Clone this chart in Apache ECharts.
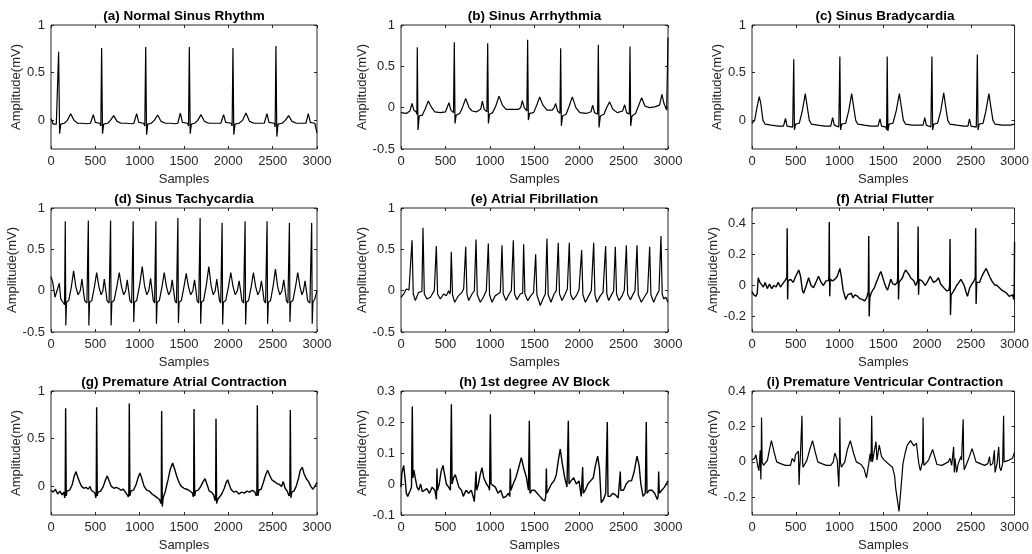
<!DOCTYPE html>
<html>
<head>
<meta charset="utf-8">
<title>ECG rhythms</title>
<script src="https://cdn.jsdelivr.net/npm/echarts@6/dist/echarts.min.js"></script>
<style>
  html, body { margin: 0; padding: 0; background: #fff; }
  #chart { width: 1032px; height: 554px; }
</style>
</head>
<body>
<div id="chart"></div>
<script>
// panel titles, y ranges and tick labels
const panelTitles = [
  '(a) Normal Sinus Rhythm', '(b) Sinus Arrhythmia', '(c) Sinus Bradycardia',
  '(d) Sinus Tachycardia', '(e) Atrial Fibrillation', '(f) Atrial Flutter',
  '(g) Premature Atrial Contraction', '(h) 1st degree AV Block', '(i) Premature Ventricular Contraction'
];
const yRanges = [[-0.3, 1], [-0.5, 1], [-0.3, 1], [-0.5, 1], [-0.5, 1], [-0.3, 0.5], [-0.3, 1], [-0.1, 0.3], [-0.3, 0.4]];
const yTicks = [
  [0, 0.5, 1], [-0.5, 0, 0.5, 1], [0, 0.5, 1],
  [-0.5, 0, 0.5, 1], [-0.5, 0, 0.5, 1], [-0.2, 0, 0.2, 0.4],
  [0, 0.5, 1], [-0.1, 0, 0.1, 0.2, 0.3], [-0.2, 0, 0.2, 0.4]
];
const xTicks = [0, 500, 1000, 1500, 2000, 2500, 3000];
// the noisier recordings look heavier in the original
const noisy = [false, false, false, false, false, true, true, true, false];

// signals, [sample, mV]
const normalSinus = [[0,0.02],[12,-0.01],[25,-0.04],[60,-0.04],[75,-0.06],[86,0.72],[97,-0.14],[110,-0.04],[150,-0.03],[185,0.0],[222,0.07],[260,0.0],[300,-0.03],[350,-0.03],[400,-0.035],[445,-0.03],[477,0.06],[500,-0.02],[550,-0.03],[562,-0.06],[571,0.76],[581,-0.14],[594,-0.04],[640,-0.03],[670,0.0],[707,0.05],[745,-0.01],[790,-0.03],[850,-0.03],[910,-0.035],[935,-0.03],[966,0.07],[990,-0.02],[1045,-0.03],[1058,-0.06],[1068,0.77],[1078,-0.15],[1091,-0.04],[1130,-0.03],[1165,0.0],[1203,0.056],[1240,-0.01],[1290,-0.03],[1350,-0.03],[1400,-0.035],[1430,-0.03],[1459,0.077],[1482,-0.02],[1540,-0.03],[1551,-0.06],[1560,0.77],[1570,-0.14],[1583,-0.04],[1620,-0.03],[1655,0.0],[1692,0.06],[1730,-0.01],[1780,-0.03],[1850,-0.03],[1915,-0.03],[1947,0.06],[1970,-0.02],[2032,-0.03],[2043,-0.06],[2052,0.76],[2062,-0.15],[2075,-0.04],[2120,-0.03],[2160,0.0],[2199,0.077],[2238,-0.01],[2290,-0.03],[2350,-0.03],[2405,-0.03],[2436,0.07],[2458,-0.02],[2518,-0.03],[2528,-0.07],[2537,0.78],[2547,-0.17],[2560,-0.04],[2605,-0.03],[2643,0.0],[2680,0.05],[2718,-0.01],[2770,-0.03],[2830,-0.03],[2875,-0.03],[2902,0.07],[2925,-0.02],[2975,-0.03],[3000,-0.13]];

const sinusArrhythmia = [[0,-0.06],[60,-0.07],[100,-0.04],[124,0.05],[145,-0.03],[170,-0.05],[178,-0.08],[183,0.73],[191,-0.27],[205,-0.1],[240,-0.09],[270,-0.02],[307,0.08],[345,0.0],[380,-0.05],[440,-0.06],[500,-0.05],[520,-0.03],[539,0.06],[560,-0.03],[590,-0.06],[599,0.79],[607,-0.19],[620,-0.09],[660,-0.07],[690,0.0],[727,0.11],[765,0.0],[800,-0.04],[850,-0.05],[895,-0.02],[914,0.08],[935,-0.02],[965,-0.05],[974,0.78],[982,-0.19],[995,-0.08],[1030,-0.06],[1065,0.02],[1101,0.14],[1140,0.03],[1180,-0.02],[1250,-0.02],[1320,-0.02],[1345,0.0],[1363,0.086],[1385,0.0],[1414,-0.04],[1423,0.82],[1431,-0.15],[1445,-0.07],[1490,-0.06],[1525,0.03],[1558,0.13],[1595,0.03],[1640,-0.03],[1700,-0.03],[1720,0.0],[1738,0.05],[1760,-0.04],[1786,-0.07],[1794,0.72],[1802,-0.22],[1815,-0.1],[1855,-0.08],[1890,0.02],[1925,0.13],[1965,0.0],[2010,-0.06],[2080,-0.07],[2135,-0.05],[2153,0.03],[2175,-0.06],[2209,-0.08],[2217,0.76],[2225,-0.24],[2240,-0.1],[2280,-0.08],[2310,0.0],[2344,0.07],[2380,-0.02],[2430,-0.06],[2490,-0.04],[2513,0.035],[2535,-0.06],[2565,-0.08],[2573,0.74],[2581,-0.22],[2595,-0.1],[2635,-0.07],[2668,0.02],[2704,0.12],[2740,0.02],[2790,0.0],[2850,0.01],[2905,0.03],[2932,0.16],[2955,0.05],[2985,-0.03],[2993,-0.01],[3000,0.85]];

const sinusBrady = [[0,-0.03],[30,0.0],[60,0.15],[83,0.25],[100,0.18],[125,0.0],[150,-0.04],[220,-0.05],[300,-0.06],[360,-0.06],[383,0.02],[400,-0.06],[465,-0.07],[470,-0.09],[477,0.64],[485,-0.1],[498,-0.04],[540,-0.03],[575,0.1],[609,0.28],[630,0.15],[655,0.0],[680,-0.04],[750,-0.05],[830,-0.06],[900,-0.06],[921,0.03],[940,-0.05],[992,-0.07],[997,-0.09],[1004,0.67],[1012,-0.1],[1025,-0.04],[1070,-0.03],[1105,0.1],[1139,0.28],[1160,0.15],[1185,0.0],[1210,-0.04],[1280,-0.05],[1360,-0.06],[1440,-0.06],[1462,0.015],[1480,-0.06],[1532,-0.07],[1538,-0.1],[1545,0.67],[1553,-0.11],[1566,-0.04],[1610,-0.03],[1648,0.1],[1684,0.28],[1705,0.15],[1730,0.0],[1755,-0.04],[1830,-0.05],[1900,-0.05],[1955,-0.05],[1974,0.03],[1992,-0.05],[2044,-0.07],[2049,-0.09],[2056,0.67],[2064,-0.1],[2077,-0.04],[2120,-0.03],[2157,0.1],[2191,0.29],[2212,0.15],[2237,0.0],[2262,-0.04],[2340,-0.05],[2420,-0.06],[2468,-0.06],[2485,0.015],[2503,-0.06],[2563,-0.07],[2568,-0.09],[2575,0.69],[2583,-0.1],[2596,-0.04],[2640,-0.03],[2673,0.1],[2707,0.28],[2728,0.15],[2753,0.0],[2778,-0.04],[2860,-0.05],[2950,-0.05],[3000,-0.04]];

const sinusTachy = [[0,0.17],[20,0.1],[45,-0.08],[65,-0.1],[94,0.09],[110,-0.1],[135,-0.14],[153,-0.17],[161,0.84],[167,-0.42],[175,-0.14],[200,-0.12],[230,0.05],[255,0.24],[280,0.05],[305,-0.05],[330,0.0],[349,0.14],[365,0.0],[380,-0.12],[405,-0.15],[413,-0.17],[421,0.85],[427,-0.42],[435,-0.14],[460,-0.12],[490,0.05],[515,0.22],[540,0.05],[565,-0.05],[585,0.0],[601,0.14],[618,0.0],[632,-0.12],[655,-0.15],[664,-0.17],[672,0.85],[678,-0.42],[686,-0.14],[711,-0.12],[743,0.05],[770,0.22],[795,0.05],[820,-0.05],[842,0.0],[860,0.13],[876,0.0],[890,-0.12],[910,-0.15],[919,-0.17],[927,0.84],[933,-0.38],[941,-0.14],[966,-0.12],[1000,0.07],[1029,0.29],[1055,0.06],[1080,-0.05],[1103,0.0],[1123,0.15],[1140,0.0],[1153,-0.12],[1168,-0.15],[1175,-0.17],[1183,0.84],[1189,-0.4],[1197,-0.14],[1222,-0.12],[1252,0.05],[1277,0.22],[1302,0.05],[1327,-0.05],[1350,0.0],[1367,0.13],[1383,0.0],[1398,-0.12],[1415,-0.15],[1423,-0.17],[1431,0.88],[1437,-0.39],[1445,-0.14],[1470,-0.12],[1500,0.05],[1525,0.21],[1550,0.05],[1575,-0.05],[1600,0.0],[1619,0.13],[1635,0.0],[1648,-0.12],[1666,-0.15],[1674,-0.17],[1682,0.88],[1688,-0.4],[1696,-0.14],[1721,-0.12],[1752,0.07],[1780,0.29],[1806,0.06],[1830,-0.05],[1852,0.0],[1870,0.14],[1886,0.0],[1900,-0.12],[1914,-0.15],[1922,-0.17],[1930,0.82],[1936,-0.41],[1944,-0.14],[1970,-0.12],[2002,0.05],[2028,0.22],[2053,0.05],[2078,-0.05],[2102,0.0],[2122,0.12],[2138,0.0],[2153,-0.12],[2172,-0.15],[2181,-0.17],[2189,0.84],[2195,-0.41],[2203,-0.14],[2228,-0.12],[2258,0.05],[2283,0.22],[2308,0.05],[2333,-0.05],[2355,0.0],[2373,0.12],[2389,0.0],[2403,-0.12],[2420,-0.15],[2429,-0.17],[2437,0.84],[2443,-0.4],[2451,-0.14],[2476,-0.12],[2506,0.06],[2531,0.26],[2556,0.05],[2581,-0.05],[2605,0.0],[2625,0.13],[2641,0.0],[2655,-0.12],[2672,-0.15],[2681,-0.17],[2689,0.82],[2695,-0.38],[2703,-0.14],[2728,-0.12],[2758,0.05],[2783,0.22],[2808,0.05],[2830,-0.05],[2848,0.0],[2865,0.12],[2880,0.0],[2895,-0.12],[2920,-0.15],[2932,-0.17],[2940,0.82],[2946,-0.4],[2954,-0.14],[2975,-0.1],[3000,0.0]];

const atrialFib = [[0,-0.08],[30,-0.04],[60,0.02],[90,0.01],[110,-0.01],[124,0.61],[138,-0.04],[161,-0.12],[198,-0.02],[235,-0.01],[247,0.76],[262,-0.04],[292,-0.1],[330,-0.08],[374,0.0],[386,-0.01],[397,0.54],[411,-0.04],[442,-0.1],[479,-0.04],[510,-0.06],[535,0.0],[548,-0.04],[555,-0.01],[565,0.47],[579,-0.05],[603,-0.14],[640,-0.07],[685,-0.02],[704,0.02],[716,0.0],[727,0.53],[741,-0.04],[760,-0.12],[798,-0.04],[824,0.0],[832,-0.01],[843,0.62],[857,-0.05],[891,-0.14],[925,-0.08],[959,0.0],[970,-0.01],[981,0.57],[995,-0.05],[1022,-0.14],[1060,-0.06],[1090,-0.04],[1116,-0.02],[1124,-0.03],[1135,0.55],[1149,-0.04],[1180,-0.12],[1215,-0.04],[1240,0.0],[1251,-0.01],[1262,0.61],[1276,-0.04],[1303,-0.11],[1340,-0.04],[1360,-0.02],[1367,-0.03],[1378,0.56],[1392,-0.04],[1423,-0.12],[1460,-0.06],[1490,-0.02],[1502,-0.03],[1513,0.44],[1527,-0.05],[1565,-0.18],[1595,-0.1],[1622,-0.04],[1630,-0.05],[1640,0.63],[1654,-0.05],[1685,-0.14],[1720,-0.04],[1745,0.0],[1756,-0.01],[1767,0.58],[1781,-0.04],[1809,-0.12],[1845,-0.04],[1869,0.02],[1880,0.0],[1891,0.58],[1905,-0.04],[1932,-0.11],[1970,-0.06],[2000,0.01],[2019,0.0],[2030,0.49],[2044,-0.05],[2071,-0.14],[2110,-0.06],[2138,0.0],[2154,-0.01],[2165,0.58],[2179,-0.05],[2202,-0.14],[2240,-0.06],[2270,-0.02],[2288,-0.02],[2299,0.54],[2313,-0.04],[2333,-0.12],[2360,-0.06],[2389,0.0],[2398,-0.01],[2408,0.53],[2422,-0.04],[2449,-0.12],[2485,-0.06],[2509,0.005],[2521,0.0],[2532,0.55],[2546,-0.04],[2577,-0.11],[2600,-0.06],[2629,0.0],[2641,-0.01],[2652,0.55],[2666,-0.05],[2700,-0.14],[2738,-0.07],[2771,-0.015],[2783,-0.02],[2794,0.53],[2808,-0.05],[2839,-0.14],[2870,-0.06],[2899,0.0],[2910,-0.01],[2921,0.66],[2935,-0.04],[2951,-0.1],[2975,-0.08],[3000,-0.14]];

const atrialFlutter = [[0,-0.04],[20,-0.06],[45,-0.07],[60,-0.05],[71,0.05],[90,0.02],[110,0.03],[130,-0.01],[150,0.02],[175,-0.02],[200,0.01],[225,-0.02],[250,0.0],[275,-0.01],[300,0.02],[325,-0.01],[350,0.01],[375,0.03],[392,0.02],[398,0.05],[402,0.37],[407,-0.09],[412,0.03],[440,0.04],[470,0.02],[500,0.06],[534,0.1],[555,0.06],[575,-0.03],[590,-0.05],[620,0.0],[647,0.05],[675,0.0],[703,-0.015],[730,0.02],[760,0.06],[790,0.02],[816,0.0],[845,0.03],[872,0.03],[878,0.05],[883,0.41],[888,-0.07],[894,0.04],[920,0.03],[947,0.04],[975,0.06],[1004,0.11],[1020,0.06],[1041,-0.03],[1071,-0.09],[1095,-0.06],[1116,-0.065],[1135,-0.05],[1154,-0.08],[1175,-0.06],[1191,-0.05],[1210,-0.07],[1229,-0.085],[1260,-0.09],[1286,-0.1],[1310,-0.08],[1323,-0.07],[1329,-0.04],[1334,0.32],[1339,-0.2],[1346,-0.08],[1361,-0.05],[1380,-0.03],[1398,-0.015],[1420,0.02],[1436,0.04],[1455,0.07],[1473,0.09],[1490,0.06],[1511,0.02],[1530,-0.01],[1549,-0.03],[1570,0.01],[1586,0.04],[1610,0.01],[1635,0.005],[1660,0.02],[1665,0.05],[1669,0.41],[1674,-0.09],[1680,0.02],[1699,0.02],[1720,0.05],[1737,0.08],[1755,0.1],[1774,0.11],[1795,0.07],[1812,0.05],[1830,0.04],[1849,0.03],[1870,0.0],[1879,0.0],[1893,0.03],[1898,0.38],[1903,-0.06],[1910,0.04],[1943,0.03],[1981,0.0],[2010,0.03],[2037,0.06],[2055,0.04],[2075,0.02],[2105,0.03],[2131,0.05],[2155,0.01],[2177,0.0],[2200,-0.02],[2226,-0.035],[2250,-0.03],[2258,0.0],[2263,0.3],[2268,-0.19],[2275,-0.06],[2300,-0.04],[2320,-0.02],[2338,0.0],[2365,0.02],[2387,0.04],[2405,0.02],[2425,0.0],[2445,-0.04],[2462,-0.07],[2485,-0.02],[2507,0.005],[2537,0.03],[2551,0.05],[2556,0.37],[2561,-0.12],[2568,0.02],[2582,0.03],[2600,0.02],[2620,0.05],[2645,0.08],[2676,0.11],[2690,0.12],[2714,0.06],[2740,0.03],[2770,0.005],[2800,0.0],[2827,-0.015],[2855,-0.03],[2883,-0.04],[2910,-0.05],[2939,-0.07],[2960,-0.06],[2977,-0.06],[2993,-0.09],[2997,0.0],[3000,0.28]];

const prematureAtrial = [[0,-0.04],[25,-0.06],[50,-0.03],[75,-0.08],[100,-0.05],[125,-0.09],[145,-0.06],[155,-0.12],[160,-0.08],[165,0.82],[172,-0.1],[180,-0.05],[210,-0.04],[240,0.02],[260,0.1],[282,0.155],[300,0.1],[320,0.05],[345,0.0],[370,-0.02],[395,-0.01],[420,-0.03],[440,0.0],[455,-0.04],[475,-0.05],[495,-0.07],[505,-0.12],[510,-0.08],[515,0.83],[522,-0.1],[530,-0.06],[560,-0.05],[590,0.0],[615,0.07],[635,0.11],[655,0.06],[680,0.0],[710,-0.02],[735,-0.01],[760,-0.02],[790,-0.04],[815,-0.03],[840,-0.06],[860,-0.07],[873,-0.11],[878,-0.08],[883,0.87],[890,-0.1],[900,-0.05],[930,-0.04],[960,0.02],[985,0.1],[1004,0.14],[1025,0.08],[1050,0.0],[1080,-0.04],[1110,-0.05],[1140,-0.08],[1170,-0.1],[1200,-0.12],[1225,-0.14],[1240,-0.18],[1244,-0.12],[1248,0.79],[1255,-0.21],[1265,-0.12],[1290,-0.05],[1320,0.07],[1345,0.18],[1372,0.245],[1395,0.18],[1420,0.1],[1445,0.04],[1470,0.0],[1500,-0.02],[1530,-0.03],[1555,-0.04],[1575,-0.02],[1595,-0.07],[1605,-0.11],[1609,-0.07],[1613,0.81],[1620,-0.1],[1630,-0.05],[1660,-0.04],[1690,0.0],[1715,0.05],[1737,0.08],[1760,0.02],[1785,-0.05],[1810,-0.06],[1835,-0.09],[1850,-0.15],[1857,-0.1],[1861,0.71],[1868,-0.18],[1878,-0.14],[1900,-0.12],[1925,-0.08],[1955,-0.02],[1975,0.04],[1992,0.07],[2010,0.02],[2030,-0.03],[2060,-0.06],[2090,-0.05],[2120,-0.08],[2150,-0.06],[2180,-0.07],[2210,-0.05],[2240,-0.06],[2270,-0.04],[2300,-0.06],[2315,-0.1],[2322,-0.07],[2327,0.85],[2334,-0.1],[2345,-0.04],[2370,-0.03],[2395,0.04],[2420,0.12],[2443,0.17],[2465,0.12],[2490,0.07],[2520,0.05],[2550,0.03],[2575,0.02],[2600,0.0],[2620,0.05],[2640,-0.02],[2665,-0.05],[2685,-0.1],[2694,-0.07],[2699,0.8],[2706,-0.12],[2715,-0.06],[2740,-0.05],[2765,0.0],[2790,0.08],[2812,0.17],[2834,0.2],[2855,0.13],[2880,0.08],[2905,0.05],[2930,0.0],[2955,-0.03],[2975,-0.01],[3000,0.04]];

const avBlock = [[0,-0.01],[10,0.035],[20,0.03],[30,0.06],[45,0.02],[60,-0.03],[75,-0.04],[90,-0.03],[105,-0.02],[118,-0.01],[127,0.25],[134,0.02],[145,0.045],[160,0.02],[180,-0.01],[200,-0.02],[220,0.0],[240,-0.025],[260,-0.02],[290,-0.015],[320,-0.03],[350,-0.01],[380,-0.02],[398,-0.05],[404,0.05],[410,-0.02],[430,0.0],[450,0.04],[472,0.06],[490,0.03],[510,0.0],[535,-0.01],[555,-0.02],[566,0.257],[574,0.0],[590,0.02],[610,0.03],[630,0.01],[650,-0.01],[680,-0.02],[700,-0.04],[730,-0.02],[760,-0.03],[790,-0.02],[810,-0.04],[824,-0.057],[843,0.04],[850,-0.02],[870,0.0],[890,0.03],[910,0.053],[930,0.02],[960,0.0],[985,-0.01],[995,-0.02],[1004,0.225],[1012,0.0],[1030,0.0],[1060,-0.01],[1090,-0.03],[1120,-0.02],[1150,-0.045],[1180,-0.04],[1205,-0.03],[1222,-0.04],[1228,0.05],[1235,-0.02],[1260,0.0],[1290,0.02],[1320,0.05],[1352,0.085],[1380,0.05],[1410,0.02],[1432,-0.02],[1442,0.204],[1450,-0.03],[1470,-0.02],[1500,-0.02],[1530,-0.03],[1560,-0.04],[1590,-0.05],[1615,-0.055],[1627,-0.04],[1633,0.05],[1640,-0.03],[1660,-0.03],[1690,0.0],[1720,0.01],[1745,0.03],[1770,0.08],[1790,0.113],[1810,0.07],[1840,0.02],[1865,-0.01],[1873,-0.01],[1880,0.204],[1888,0.0],[1910,0.01],[1940,0.02],[1970,0.0],[2000,0.01],[2025,-0.04],[2035,-0.04],[2041,0.055],[2048,-0.03],[2070,-0.02],[2100,0.0],[2130,0.01],[2160,0.02],[2185,0.06],[2210,0.09],[2230,0.05],[2250,-0.06],[2275,-0.05],[2300,-0.03],[2310,-0.03],[2318,0.2],[2326,-0.04],[2350,-0.04],[2380,-0.03],[2410,-0.035],[2440,-0.045],[2458,-0.04],[2464,0.04],[2470,-0.02],[2500,-0.02],[2530,0.0],[2560,0.01],[2590,0.01],[2620,0.04],[2652,0.09],[2675,0.06],[2695,0.0],[2720,-0.04],[2745,-0.03],[2756,0.2],[2764,-0.03],[2790,-0.02],[2820,-0.02],[2850,-0.03],[2880,-0.05],[2889,-0.04],[2895,0.04],[2902,-0.03],[2930,-0.02],[2960,-0.01],[3000,0.01]];

const prematureVentricular = [[0,0.01],[30,0.02],[45,0.04],[64,-0.02],[79,-0.05],[94,0.065],[101,-0.1],[105,0.0],[109,0.25],[116,0.0],[132,-0.02],[177,0.01],[200,0.07],[222,0.12],[250,0.06],[282,0.0],[327,-0.01],[380,-0.02],[440,-0.02],[459,0.02],[485,0.0],[496,0.04],[515,0.045],[530,0.06],[538,-0.13],[545,-0.03],[550,0.0],[571,0.26],[578,0.0],[583,-0.03],[628,0.01],[660,0.07],[692,0.12],[720,0.06],[752,0.0],[797,-0.01],[850,-0.02],[900,-0.02],[928,0.0],[947,0.05],[974,0.01],[985,0.0],[992,-0.14],[999,0.0],[1004,0.25],[1010,0.0],[1022,-0.03],[1060,0.0],[1090,0.07],[1124,0.12],[1160,0.05],[1192,0.0],[1248,-0.015],[1280,-0.04],[1308,-0.09],[1334,-0.01],[1349,0.045],[1360,0.0],[1368,0.26],[1376,0.0],[1380,-0.01],[1398,0.01],[1417,0.115],[1428,0.01],[1454,0.095],[1480,0.03],[1511,0.01],[1567,-0.015],[1605,-0.03],[1630,-0.08],[1642,-0.15],[1661,-0.15],[1680,-0.28],[1699,-0.17],[1725,-0.01],[1750,0.05],[1774,0.095],[1812,0.12],[1849,0.09],[1868,0.085],[1879,0.105],[1906,-0.01],[1924,-0.05],[1943,-0.06],[1949,0.0],[1955,0.25],[1961,0.0],[1966,-0.02],[2018,0.01],[2064,0.07],[2113,-0.015],[2170,-0.02],[2244,0.0],[2263,0.02],[2282,-0.02],[2304,0.085],[2312,-0.06],[2319,0.02],[2338,-0.06],[2357,-0.01],[2387,0.03],[2395,0.01],[2407,0.0],[2413,0.24],[2419,0.0],[2425,-0.045],[2470,0.01],[2515,0.075],[2560,0.0],[2582,-0.01],[2657,-0.02],[2695,-0.01],[2714,0.03],[2725,-0.02],[2751,-0.01],[2770,0.065],[2777,-0.06],[2800,-0.01],[2819,0.085],[2830,-0.03],[2845,-0.05],[2864,-0.01],[2870,0.0],[2875,0.26],[2881,0.0],[2890,0.0],[2939,0.01],[2977,0.02],[3000,0.055]];

const signals = [normalSinus, sinusArrhythmia, sinusBrady, sinusTachy, atrialFib, atrialFlutter, prematureAtrial, avBlock, prematureVentricular];

// layout (px)
const colLeft = [51, 401, 752];
const colWidth = [266, 267, 266];
const rowTop = [25, 208, 391];
const rowHeight = 124;
const font = 'Liberation Sans, Arial, Helvetica, sans-serif';
const axisColor = '#262626';

const chart = echarts.init(document.getElementById('chart'), null, { renderer: 'canvas' });

const grid = [], xAxis = [], yAxis = [], series = [], title = [];
const xTop = [], yRight = [];
const plain = function (v) { return String(v); };

signals.forEach(function (data, i) {
  const c = i % 3, r = Math.floor(i / 3);
  grid.push({
    left: colLeft[c], top: rowTop[r], width: colWidth[c], height: rowHeight,
    show: true, borderColor: axisColor, borderWidth: 1, backgroundColor: 'transparent'
  });
  title.push({
    text: panelTitles[i],
    left: colLeft[c] + colWidth[c] / 2,
    top: rowTop[r] - 16,
    textAlign: 'center',
    padding: 0,
    textStyle: { fontSize: 13.5, fontWeight: 'bold', color: '#000', fontFamily: font }
  });
  const tickX = { inside: true, length: 3, lineStyle: { color: axisColor } };
  xAxis.push({
    type: 'value', gridIndex: i, min: 0, max: 3000, position: 'bottom',
    axisLine: { show: false, onZero: false },
    axisTick: Object.assign({ customValues: xTicks }, tickX),
    axisLabel: { customValues: xTicks, formatter: plain, color: axisColor, fontSize: 13, margin: 6, fontFamily: font },
    splitLine: { show: false },
    name: 'Samples', nameLocation: 'middle', nameGap: 24,
    nameTextStyle: { color: axisColor, fontSize: 13, fontFamily: font }
  });
  xTop.push({
    type: 'value', gridIndex: i, min: 0, max: 3000, position: 'top',
    axisLine: { show: false, onZero: false },
    axisTick: Object.assign({ customValues: xTicks }, tickX),
    axisLabel: { show: false },
    splitLine: { show: false }
  });
  yAxis.push({
    type: 'value', gridIndex: i, min: yRanges[i][0], max: yRanges[i][1], position: 'left',
    axisLine: { show: false, onZero: false },
    axisTick: Object.assign({ customValues: yTicks[i] }, tickX),
    axisLabel: { customValues: yTicks[i], formatter: plain, color: axisColor, fontSize: 13, margin: 6, fontFamily: font },
    splitLine: { show: false },
    name: 'Amplitude(mV)', nameLocation: 'middle', nameRotate: 90, nameGap: 23,
    nameTextStyle: { color: axisColor, fontSize: 13, fontFamily: font }
  });
  yRight.push({
    type: 'value', gridIndex: i, min: yRanges[i][0], max: yRanges[i][1], position: 'right',
    axisLine: { show: false, onZero: false },
    axisTick: Object.assign({ customValues: yTicks[i] }, tickX),
    axisLabel: { show: false },
    splitLine: { show: false }
  });
  series.push({
    type: 'line', xAxisIndex: i, yAxisIndex: i, data: data,
    showSymbol: false, symbol: 'none', silent: true,
    lineStyle: { color: '#000', width: noisy[i] ? 1.4 : 1.2 }
  });
});

chart.setOption({
  animation: false,
  backgroundColor: '#fff',
  title: title,
  grid: grid,
  xAxis: xAxis.concat(xTop),
  yAxis: yAxis.concat(yRight),
  series: series
});
</script>
</body>
</html>
